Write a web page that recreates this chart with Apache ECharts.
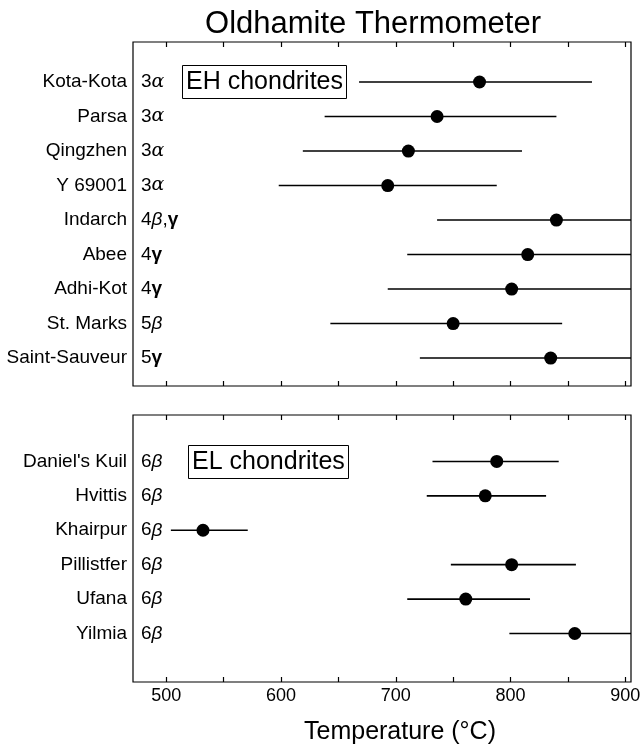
<!DOCTYPE html>
<html>
<head>
<meta charset="utf-8">
<script src="https://cdn.jsdelivr.net/npm/echarts@6/dist/echarts.min.js"></script>
<style>
html,body{margin:0;padding:0;background:#fff;}
#chart{width:640px;height:750px;}
</style>
</head>
<body>
<div id="chart"></div>
<script>
// ---- data ----
const chartTitle = 'Oldhamite Thermometer';
const axisTitle = 'Temperature (°C)';
const ehLabel = 'EH chondrites';
const elLabel = 'EL chondrites';

const ehNames = ['Kota-Kota', 'Parsa', 'Qingzhen', 'Y 69001', 'Indarch', 'Abee', 'Adhi-Kot', 'St. Marks', 'Saint-Sauveur'];
const ehTypes = ['3α', '3α', '3α', '3α', '4β,γ', '4γ', '4γ', '5β', '5γ'];
const ehTemp = [773, 736, 711, 693, 840, 815, 801, 750, 835];
const ehLow  = [668, 638, 619, 598, 736, 710, 693, 643, 721];
const ehHigh = [871, 840, 810, 788, 944, 920, 909, 845, 948];

const elNames = ["Daniel's Kuil", 'Hvittis', 'Khairpur', 'Pillistfer', 'Ufana', 'Yilmia'];
const elTypes = ['6β', '6β', '6β', '6β', '6β', '6β'];
const elTemp = [788, 778, 532, 801, 761, 856];
const elLow  = [732, 727, 504, 748, 710, 799];
const elHigh = [842, 831, 571, 857, 817, 913];

const tickValues = [500, 550, 600, 650, 700, 750, 800, 850, 900];
const labelValues = [500, 600, 700, 800, 900];

// ---- helpers ----
const FONT = '"Liberation Sans", Arial, Helvetica, sans-serif';
function fmtType(s) {
  return s.split('').map(ch => {
    if (ch === 'α') return '{a|α}';
    if (ch === 'β') return '{b|β}';
    if (ch === 'γ') return '{g|γ}';
    return '{n|' + ch + '}';
  }).join('');
}
const typeRich = {
  n: {fontFamily: FONT, fontSize: 19, color: '#000'},
  a: {fontFamily: '"DejaVu Serif", serif', fontStyle: 'italic', fontSize: 19, color: '#000'},
  b: {fontFamily: FONT, fontStyle: 'italic', fontSize: 19, color: '#000'},
  g: {fontFamily: FONT, fontWeight: 'bold', fontSize: 19, color: '#000'}
};

function errorSeries(low, high, xi, yi) {
  return {
    type: 'custom',
    xAxisIndex: xi, yAxisIndex: yi,
    data: low.map((l, i) => [l, high[i], i]),
    encode: {x: [0, 1], y: 2},
    silent: true,
    z: 2,
    renderItem: function (params, api) {
      const cs = params.coordSys;
      const y = api.coord([api.value(0), api.value(2)])[1];
      let x1 = api.coord([api.value(0), api.value(2)])[0];
      let x2 = api.coord([api.value(1), api.value(2)])[0];
      x1 = Math.max(x1, cs.x);
      x2 = Math.min(x2, cs.x + cs.width);
      return {type: 'line', shape: {x1: x1, y1: y, x2: x2, y2: y},
              style: {stroke: '#000', lineWidth: 1.6}};
    }
  };
}
function dotSeries(temp, xi, yi) {
  return {
    type: 'scatter', xAxisIndex: xi, yAxisIndex: yi,
    data: temp.map((t, i) => [t, i]),
    symbol: 'circle', symbolSize: 13,
    itemStyle: {color: '#000', opacity: 1}, z: 3, silent: true
  };
}
function typeSeries(types, xi, yi) {
  return {
    type: 'scatter', xAxisIndex: xi, yAxisIndex: yi,
    data: types.map((t, i) => ({value: [471, i], name: t})),
    symbolSize: 0, silent: true,
    itemStyle: {opacity: 1},
    label: {show: true, position: 'right', distance: 8, opacity: 1,
            formatter: p => fmtType(p.name), rich: typeRich}
  };
}
function xAx(gi, pos, showLabels) {
  return {
    type: 'value', gridIndex: gi, position: pos, min: 471, max: 905,
    axisLine: {show: false, onZero: false},
    splitLine: {show: false},
    axisTick: {show: true, inside: true, length: 5, customValues: tickValues,
               lineStyle: {color: '#000', width: 1.2}},
    axisLabel: {show: showLabels, customValues: labelValues, margin: 5,
                fontFamily: FONT, fontSize: 18, color: '#000'}
  };
}
function yAx(gi, names, min, max) {
  return {
    type: 'value', gridIndex: gi, inverse: true, min: min, max: max,
    axisLine: {show: false, onZero: false}, axisTick: {show: false}, splitLine: {show: false},
    axisLabel: {show: true, margin: 6, fontFamily: FONT, fontSize: 19, color: '#000',
                customValues: names.map((n, i) => i),
                formatter: v => names[Math.round(v)] || ''}
  };
}

const chart = echarts.init(document.getElementById('chart'), null, {renderer: 'canvas'});
chart.setOption({
  backgroundColor: '#fff',
  animation: false,
  title: [
    {text: chartTitle, left: 368, top: 4, textAlign: 'center',
     textStyle: {fontFamily: FONT, fontSize: 31, fontWeight: 'normal', color: '#000'}},
    {text: ehLabel, left: 182, top: 65, padding: [5, 4, 4, 4],
     borderColor: '#000', borderWidth: 1,
     textStyle: {fontFamily: FONT, fontSize: 25, fontWeight: 'normal', color: '#000'}},
    {text: elLabel, left: 188, top: 445, padding: [5, 4, 4, 4],
     borderColor: '#000', borderWidth: 1,
     textStyle: {fontFamily: FONT, fontSize: 25, fontWeight: 'normal', color: '#000'}}
  ],
  grid: [
    {left: 133, right: 9, top: 42, height: 344, show: true, borderColor: '#000', borderWidth: 1.2,
     backgroundColor: 'transparent', outerBoundsMode: 'none', containLabel: false},
    {left: 133, right: 9, top: 415, height: 267, show: true, borderColor: '#000', borderWidth: 1.2,
     backgroundColor: 'transparent', outerBoundsMode: 'none', containLabel: false}
  ],
  xAxis: [
    xAx(0, 'bottom', false),
    xAx(0, 'top', false),
    xAx(1, 'bottom', true),
    xAx(1, 'top', false)
  ],
  yAxis: [
    yAx(0, ehNames, -1.16, 8.81),
    yAx(1, elNames, -1.35, 6.41)
  ],
  graphic: [
    {type: 'text', x: 400, y: 732,
     style: {text: axisTitle, fill: '#000', font: '25px ' + FONT, textAlign: 'center', textVerticalAlign: 'middle'}}
  ],
  series: [
    errorSeries(ehLow, ehHigh, 0, 0),
    dotSeries(ehTemp, 0, 0),
    typeSeries(ehTypes, 0, 0),
    errorSeries(elLow, elHigh, 2, 1),
    dotSeries(elTemp, 2, 1),
    typeSeries(elTypes, 2, 1)
  ]
});
</script>
</body>
</html>
